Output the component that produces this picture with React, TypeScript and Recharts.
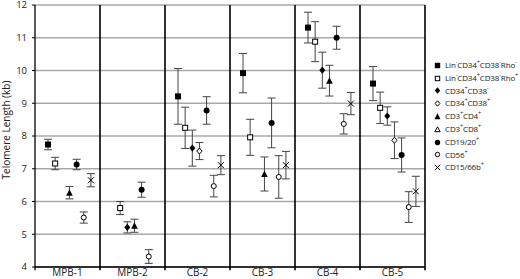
import React from 'react';
import { ScatterChart, Scatter, XAxis, YAxis, CartesianGrid, ErrorBar, ReferenceLine } from 'recharts';

// ---------- data ----------
const categories = ['MPB-1', 'MPB-2', 'CB-2', 'CB-3', 'CB-4', 'CB-5'];
const yTicks = [4, 5, 6, 7, 8, 9, 10, 11, 12];

const linRhoNeg = [7.74, null, 9.21, 9.92, 11.31, 9.6];
const linRhoNegErr = [0.16, null, 0.85, 0.6, 0.47, 0.52];
const linRhoPos = [7.16, 5.8, 8.25, 7.96, 10.88, 8.86];
const linRhoPosErr = [0.19, 0.2, 0.63, 0.55, 0.61, 0.48];
const cd34cd38Neg = [null, 5.21, 7.63, null, 10.01, 8.61];
const cd34cd38NegErr = [null, 0.17, 0.55, null, 0.55, 0.28];
const cd34cd38Pos = [null, null, 7.54, null, null, 7.87];
const cd34cd38PosErr = [null, null, 0.26, null, null, 0.56];
const cd3cd4 = [6.27, 5.26, null, 6.84, 9.69, null];
const cd3cd4Err = [0.19, 0.2, null, 0.52, 0.47, null];
const cd3cd8 = [null, null, null, null, null, null];
const cd3cd8Err = [null, null, null, null, null, null];
const cd1920 = [7.13, 6.36, 8.78, 8.4, 11.0, 7.42];
const cd1920Err = [0.16, 0.23, 0.42, 0.76, 0.35, 0.52];
const cd56 = [5.51, 4.32, 6.47, 6.75, 8.37, 5.83];
const cd56Err = [0.17, 0.21, 0.33, 0.65, 0.31, 0.47];
const cd1566b = [6.65, null, 7.11, 7.11, 8.99, 6.31];
const cd1566bErr = [0.2, null, 0.29, 0.42, 0.34, 0.46];

type Kind = 'square' | 'squareOpen' | 'diamond' | 'diamondOpen' | 'triangle' | 'triangleOpen' | 'circle' | 'circleOpen' | 'x';
type Part = [string, string];

const series: { id: string; label: Part[]; values: (number | null)[]; errs: (number | null)[]; kind: Kind; slot: number }[] = [
  { id: 'linRhoNeg', label: [['Lin', '-'], ['CD34', '+'], ['CD38', '-'], ['Rho', '-']], values: linRhoNeg, errs: linRhoNegErr, kind: 'square', slot: 0 },
  { id: 'linRhoPos', label: [['Lin', '-'], ['CD34', '+'], ['CD38', '-'], ['Rho', '+']], values: linRhoPos, errs: linRhoPosErr, kind: 'squareOpen', slot: 1 },
  { id: 'cd34cd38Neg', label: [['CD34', '+'], ['CD38', '-']], values: cd34cd38Neg, errs: cd34cd38NegErr, kind: 'diamond', slot: 2 },
  { id: 'cd34cd38Pos', label: [['CD34', '+'], ['CD38', '+']], values: cd34cd38Pos, errs: cd34cd38PosErr, kind: 'diamondOpen', slot: 3 },
  { id: 'cd3cd4', label: [['CD3', '+'], ['CD4', '+']], values: cd3cd4, errs: cd3cd4Err, kind: 'triangle', slot: 3 },
  { id: 'cd3cd8', label: [['CD3', '+'], ['CD8', '+']], values: cd3cd8, errs: cd3cd8Err, kind: 'triangleOpen', slot: 3 },
  { id: 'cd1920', label: [['CD19/20', '+']], values: cd1920, errs: cd1920Err, kind: 'circle', slot: 4 },
  { id: 'cd56', label: [['CD56', '+']], values: cd56, errs: cd56Err, kind: 'circleOpen', slot: 5 },
  { id: 'cd1566b', label: [['CD15/66b', '+']], values: cd1566b, errs: cd1566bErr, kind: 'x', slot: 6 },
];

// ---------- layout ----------
const W = 520;
const H = 279;
const SLOT_STEP = 0.11;
const SLOT_SHIFT = 0.03;
const FONT = '"Open Sans", "DejaVu Sans", sans-serif';
const TEXT = '#222';

function MarkerShape({ cx, cy, kind, s = 3 }: { cx: number; cy: number; kind: Kind; s?: number }) {
  const sw = 1;
  switch (kind) {
    case 'square':
      return <rect x={cx - s} y={cy - s} width={2 * s} height={2 * s} fill="#000" />;
    case 'squareOpen':
      return <rect x={cx - s + 0.5} y={cy - s + 0.5} width={2 * s - 1} height={2 * s - 1} fill="#fff" stroke="#000" strokeWidth={sw} />;
    case 'diamond':
      return <polygon points={`${cx},${cy - s - 0.6} ${cx + s},${cy} ${cx},${cy + s + 0.6} ${cx - s},${cy}`} fill="#000" />;
    case 'diamondOpen':
      return <polygon points={`${cx},${cy - s} ${cx + s * 0.9},${cy} ${cx},${cy + s} ${cx - s * 0.9},${cy}`} fill="#fff" stroke="#000" strokeWidth={sw} />;
    case 'triangle':
      return <polygon points={`${cx},${cy - s - 0.5} ${cx + s + 0.3},${cy + s} ${cx - s - 0.3},${cy + s}`} fill="#000" />;
    case 'triangleOpen':
      return <polygon points={`${cx},${cy - s} ${cx + s},${cy + s - 0.5} ${cx - s},${cy + s - 0.5}`} fill="#fff" stroke="#000" strokeWidth={sw} />;
    case 'circle':
      return <circle cx={cx} cy={cy} r={s} fill="#000" />;
    case 'circleOpen':
      return <circle cx={cx} cy={cy} r={s - 0.5} fill="#fff" stroke="#000" strokeWidth={sw} />;
    case 'x':
      return (
        <g stroke="#000" strokeWidth={1}>
          <line x1={cx - s} y1={cy - s} x2={cx + s} y2={cy + s} />
          <line x1={cx - s} y1={cy + s} x2={cx + s} y2={cy - s} />
        </g>
      );
  }
  return null;
}

function YLabel(props: any) {
  const vb = props.viewBox || { x: 0, y: 5, width: 35, height: 262 };
  const x = 10;
  const y = vb.y + vb.height / 2 - 6;
  return (
    <text x={x} y={y} transform={`rotate(-90, ${x}, ${y})`} textAnchor="middle" fontSize={10} fontFamily={FONT} fill={TEXT}>
      Telomere Length (kb)
    </text>
  );
}

function XTick(props: any) {
  const { x, y, payload } = props;
  return (
    <text x={x} y={y + 9} textAnchor="middle" fontSize={10} fontFamily={FONT} fill={TEXT}>
      {categories[Math.floor(payload.value)]}
    </text>
  );
}

function YTick(props: any) {
  const { x, y, payload } = props;
  return (
    <text x={x} y={y + 3.4} textAnchor="end" fontSize={9.5} fontFamily={FONT} fill={TEXT}>
      {payload.value}
    </text>
  );
}

function LegendLabel({ parts }: { parts: Part[] }) {
  return (
    <span>
      {parts.map(([t, sup], i) => (
        <React.Fragment key={i}>
          {t}
          <sup style={{ fontSize: '0.7em', verticalAlign: 'super', lineHeight: 0 }}>{sup}</sup>
        </React.Fragment>
      ))}
    </span>
  );
}

export default function App() {
  const dividers = [1, 2, 3, 4, 5, 6];
  return (
    <div style={{ position: 'absolute', left: 0, top: 0, width: W, height: H, background: '#fff', fontFamily: FONT }}>
      <ScatterChart width={W} height={H} margin={{ top: 5, right: 95, bottom: 0, left: 0 }}>
        <CartesianGrid horizontal vertical={false} stroke="#a8a8a8" strokeWidth={1.3} />
        <XAxis
          type="number"
          dataKey="x"
          domain={[0, 6]}
          ticks={[0.5, 1.5, 2.5, 3.5, 4.5, 5.5]}
          interval={0}
          tickLine={false}
          tickSize={0}
          tickMargin={0}
          height={12}
          axisLine={{ stroke: '#000', strokeWidth: 1.3 }}
          tick={<XTick />}
          allowDataOverflow
        />
        <YAxis
          type="number"
          dataKey="y"
          domain={[4, 12]}
          ticks={yTicks}
          interval={0}
          width={35}
          tickSize={3}
          tickMargin={5}
          axisLine={{ stroke: '#000', strokeWidth: 1.3 }}
          tickLine={{ stroke: '#000' }}
          tick={<YTick />}
          label={YLabel}
        />
        <ReferenceLine
          segment={[{ x: 0, y: 3.9 }, { x: 0, y: 4 }]}
          stroke="#000"
          strokeWidth={1.3}
          ifOverflow="visible"
        />
        {dividers.map((d) => (
          <ReferenceLine
            key={d}
            segment={[{ x: d, y: 3.9 }, { x: d, y: 12 }]}
            stroke="#000"
            strokeWidth={1.6}
            ifOverflow="visible"
          />
        ))}
        {series.map((s) => {
          const data = categories
            .map((c, i) =>
              s.values[i] == null
                ? null
                : { x: i + 0.5 + SLOT_SHIFT + (s.slot - 3) * SLOT_STEP, y: s.values[i] as number, err: s.errs[i] as number, cat: c }
            )
            .filter(Boolean) as any[];
          return (
            <Scatter
              key={s.id}
              name={s.id}
              data={data}
              isAnimationActive={false}
              shape={(p: any) => <MarkerShape cx={p.cx} cy={p.cy} kind={s.kind} />}
            >
              <ErrorBar dataKey="err" direction="y" width={4} stroke="#444" strokeWidth={1} />
            </Scatter>
          );
        })}
      </ScatterChart>
      <div style={{ position: 'absolute', left: 433, top: 59, fontSize: 8, letterSpacing: -0.15, color: TEXT, lineHeight: '12.8px' }}>
        {series.map((s) => (
          <div key={s.id} style={{ display: 'flex', alignItems: 'center', height: 12.8, whiteSpace: 'nowrap' }}>
            <svg width={9} height={9} style={{ marginRight: 3 }}>
              <MarkerShape cx={4.5} cy={4.5} kind={s.kind} s={2.7} />
            </svg>
            <LegendLabel parts={s.label} />
          </div>
        ))}
      </div>
    </div>
  );
}
